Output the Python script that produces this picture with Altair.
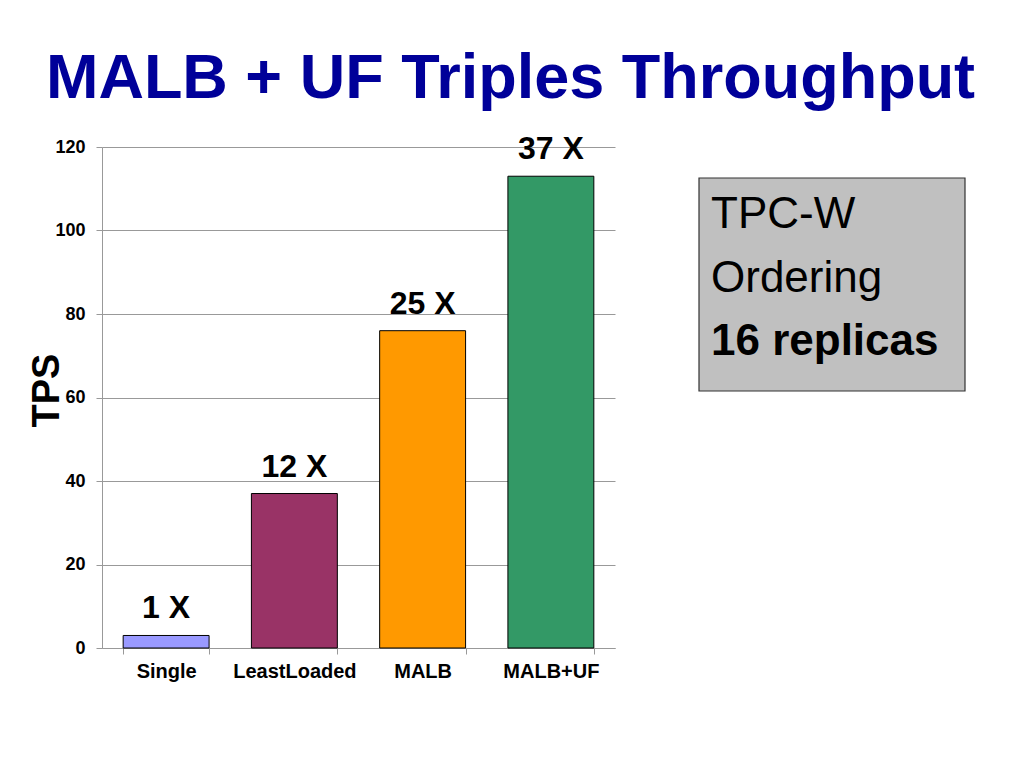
import altair as alt
import pandas as pd

categories = ["Single", "LeastLoaded", "MALB", "MALB+UF"]
tps_values = [3, 37, 76, 113]
speedup_labels = ["1 X", "12 X", "25 X", "37 X"]
bar_colors = ["#9999FF", "#993366", "#FF9900", "#339966"]
y_ticks = [0, 20, 40, 60, 80, 100, 120]
note_lines = ["TPC-W", "Ordering", "16 replicas"]
note_weights = ["normal", "normal", "bold"]

FONT = "Liberation Sans"
GRAY = "#999999"

df = pd.DataFrame({"category": categories, "tps": tps_values, "label": speedup_labels})

x_enc = alt.X(
    "category:N",
    sort=categories,
    scale=alt.Scale(paddingInner=0.33, paddingOuter=0.165),
    axis=alt.Axis(
        title=None, labelAngle=0, labelFont=FONT, labelFontSize=20,
        labelFontWeight="bold", labelColor="black", labelPadding=7,
        tickBand="extent", tickSize=6, tickColor=GRAY, domainColor=GRAY, grid=False,
    ),
)
y_enc = alt.Y(
    "tps:Q",
    scale=alt.Scale(domain=[0, 120], nice=False),
    axis=alt.Axis(
        values=y_ticks, title="TPS", titleFont=FONT, titleFontSize=38,
        titleFontWeight="bold", titleColor="black", titleAngle=-90,
        titleX=-44, titleY=243, titleAlign="center", titleBaseline="alphabetic",
        labelFont=FONT, labelFontSize=18, labelFontWeight="bold", labelColor="black",
        labelPadding=11, tickSize=6, tickColor=GRAY, domainColor=GRAY, gridColor=GRAY,
    ),
)

bars = alt.Chart(df).mark_bar(stroke="black", strokeWidth=1).encode(
    x=x_enc,
    y=y_enc,
    color=alt.Color("category:N", scale=alt.Scale(domain=categories, range=bar_colors), legend=None),
)

labels = alt.Chart(df).mark_text(
    font=FONT, fontSize=32, fontWeight="bold", dy=-17, baseline="alphabetic", color="black"
).encode(
    x=alt.X("category:N", sort=categories),
    y="tps:Q",
    text="label:N",
)

note_box = alt.Chart(pd.DataFrame({"note": ["box"]})).mark_rect(
    fill="#C0C0C0", stroke="#333333", strokeWidth=1.2
).encode(
    x=alt.value(597), x2=alt.value(863), y=alt.value(31), y2=alt.value(244)
)

line_baselines = [81, 145, 208]
note_texts = []
for line, weight, yb in zip(note_lines, note_weights, line_baselines):
    note_texts.append(
        alt.Chart(pd.DataFrame({"line": [line]})).mark_text(
            font=FONT, fontSize=44, fontWeight=weight, align="left",
            baseline="alphabetic", color="black"
        ).encode(x=alt.value(609), y=alt.value(yb), text="line:N")
    )

chart = alt.layer(bars, labels, note_box, *note_texts).properties(
    width=513,
    height=501,
    autosize="none",
    padding={"left": 94, "top": 139, "right": 400, "bottom": 100},
    title=alt.Title(
        "MALB + UF Triples Throughput", font=FONT, fontSize=63, fontWeight="bold",
        color="#000099", anchor="middle", dx=152, offset=-28, baseline="alphabetic",
    ),
).configure_view(stroke=None)

chart.save("out.html", embed_options={"renderer": "svg", "actions": False})
